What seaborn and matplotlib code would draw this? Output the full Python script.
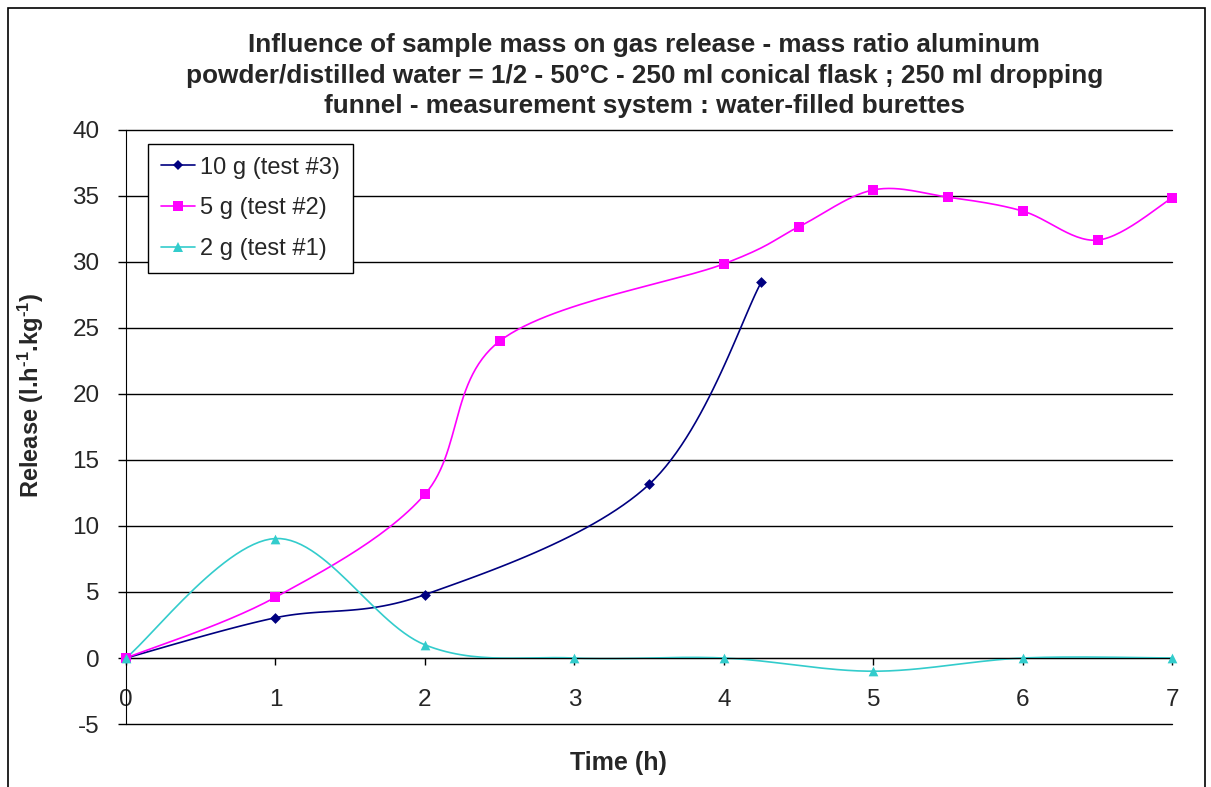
import numpy as np
import pandas as pd
import matplotlib
matplotlib.use('Agg')
import matplotlib.pyplot as plt
from matplotlib.lines import Line2D
from matplotlib.patches import Rectangle
import seaborn as sns

# Data
t_10g = [0, 1, 2, 3.5, 4.25]
r_10g = [0, 3.05, 4.8, 13.15, 28.45]

t_5g = [0, 1, 2, 2.5, 4, 4.5, 5, 5.5, 6, 6.5, 7]
r_5g = [0, 4.6, 12.4, 24.0, 29.85, 32.65, 35.45, 34.9, 33.85, 31.65, 34.85]

t_2g = [0, 1, 2, 3, 4, 5, 6, 7]
r_2g = [0, 9.05, 1.0, 0, 0, -1.0, 0, 0]

labels = ['10 g (test #3)', '5 g (test #2)', '2 g (test #1)']
colors = ['#000080', '#FF00FF', '#33CCCC']
markers = ['D', 's', '^']
msizes = [5.5, 7, 7]

title = ('Influence of sample mass on gas release - mass ratio aluminum\n'
         'powder/distilled water = 1/2 - 50°C - 250 ml conical flask ; 250 ml dropping\n'
         'funnel - measurement system : water-filled burettes')


def smooth(x, y, n=30):
    # Excel-like smoothed line (bezier through points, neighbours / 6)
    p = np.column_stack([x, y]).astype(float)
    pts = [p[0]]
    for i in range(len(p) - 1):
        p0 = p[i - 1] if i > 0 else p[i]
        p3 = p[i + 2] if i + 2 < len(p) else p[i + 1]
        c1 = p[i] + (p[i + 1] - p0) / 6
        c2 = p[i + 1] - (p3 - p[i]) / 6
        s = np.linspace(0, 1, n)[1:, None]
        seg = ((1 - s) ** 3) * p[i] + 3 * ((1 - s) ** 2) * s * c1 + 3 * (1 - s) * s ** 2 * c2 + s ** 3 * p[i + 1]
        pts.extend(seg)
    pts = np.array(pts)
    return pts[:, 0], pts[:, 1]


sns.set_style('white')
plt.rcParams['font.family'] = ['Liberation Sans', 'DejaVu Sans']
plt.rcParams['axes.unicode_minus'] = False
plt.rcParams['mathtext.fontset'] = 'custom'
plt.rcParams['mathtext.rm'] = 'Liberation Sans:bold'
plt.rcParams['mathtext.bf'] = 'Liberation Sans:bold'
plt.rcParams['mathtext.default'] = 'bf'

fig = plt.figure(figsize=(12.11, 7.87), dpi=100)
ax = fig.add_axes([0.104, 0.080, 0.864, 0.755])

series = [(t_10g, r_10g), (t_5g, r_5g), (t_2g, r_2g)]
handles = []
for (tx, ry), lab, c, m, ms in zip(series, labels, colors, markers, msizes):
    sx, sy = smooth(tx, ry)
    curve = pd.DataFrame({'t': sx, 'r': sy})
    sns.lineplot(data=curve, x='t', y='r', sort=False, estimator=None, color=c, lw=1.2, ax=ax)
    pts = pd.DataFrame({'t': tx, 'r': ry})
    sns.scatterplot(data=pts, x='t', y='r', marker=m, s=ms ** 2, color=c, edgecolor=c, linewidth=0,
                    ax=ax, zorder=5, clip_on=False)
    handles.append(Line2D([0], [0], color=c, lw=1.2, marker=m, markersize=ms, markeredgewidth=0))

ax.set_xlim(0, 7)
ax.set_ylim(-5, 40)
ax.set_yticks(range(-5, 41, 5))
ax.set_xticks(range(0, 8))
ax.yaxis.grid(True, color='black', lw=1)
for gl in ax.get_ygridlines():
    gl.set_clip_on(False)
ax.xaxis.grid(False)
ax.spines['top'].set_visible(False)
ax.spines['right'].set_visible(False)
ax.spines['left'].set_color('black')
ax.spines['bottom'].set_color('black')
ax.spines['bottom'].set_position(('data', 0))
ax.tick_params(axis='both', which='major', direction='out', width=1, color='black',
               labelsize=17.5, bottom=True, left=True)
ax.tick_params(axis='x', length=5, pad=17)
ax.tick_params(axis='y', length=6, pad=13)
ax.set_xlabel('Time (h)', fontsize=18, fontweight='bold')
ax.xaxis.set_label_coords(0.471, -0.045)
ax.set_ylabel('Release (l.h$^{\\text{-1}}$.kg$^{\\text{-1}}$)', fontsize=17, fontweight='bold')
ax.yaxis.set_label_coords(-0.076, 0.554)

fig.text(0.532, 0.958, title, ha='center', va='top', fontsize=18.8, fontweight='bold', linespacing=1.34)

leg = ax.legend(handles, labels, loc='upper left', bbox_to_anchor=(0.021, 0.977), fontsize=17,
                frameon=True, fancybox=False, edgecolor='black', framealpha=1, handlelength=1.45,
                handletextpad=0.2, labelspacing=0.8, borderpad=0.55, borderaxespad=0)
leg.get_frame().set_linewidth(1)

fig.patches.append(Rectangle((0.007, -0.01), 0.988, 1.0, transform=fig.transFigure, fill=False,
                             edgecolor='black', lw=1.2))

fig.savefig('out.png', dpi=100)
